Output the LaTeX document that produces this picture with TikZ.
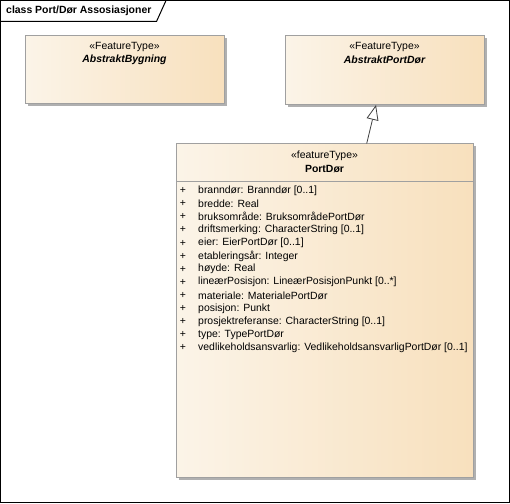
\documentclass[tikz,border=0pt]{standalone}
\usepackage{fontspec}
\setmainfont{Liberation Sans}
\usetikzlibrary{arrows.meta,shadows}
\definecolor{gradl}{HTML}{FBF4E8}
\definecolor{gradr}{HTML}{F8E0BD}
\definecolor{boxline}{HTML}{A0A0A0}
\definecolor{shadowc}{HTML}{B0B0B0}
\tikzset{
  x=1pt,y=1pt,
  classbox/.style={draw=boxline, line width=0.8pt, left color=gradl, right color=gradr,
    shading angle=90, anchor=north west, inner sep=0pt,
    drop shadow={shadow xshift=3pt, shadow yshift=-3pt, fill=shadowc, opacity=1}},
  txt/.style={font=\fontsize{10.45}{12}\selectfont, inner sep=0pt},
  attr/.style={txt, anchor=west},
  plus/.style={txt},
}
\begin{document}
\begin{tikzpicture}
\useasboundingbox (0,0) rectangle (510,-503);
% frame
\draw[line width=1pt] (0.5,-0.5) rectangle (509,-502);
\draw[line width=1pt] (0.5,-21.5) -- (156.5,-21.5) -- (166,-0.5);
\node[txt, font=\fontsize{10.45}{12}\selectfont\bfseries, anchor=west] (title) at (6,-11) {class Port/Dør Assosiasjoner};
% boxes
\node[classbox, minimum width=199pt, minimum height=68pt] (byg) at (25,-35) {};
\node[classbox, minimum width=199pt, minimum height=69pt] (apd) at (285,-35) {};
\node[classbox, minimum width=297pt, minimum height=334pt] (pd) at (176,-143) {};
\draw[boxline, line width=0.8pt] (176,-181) -- (473,-181);
% texts
\node[txt] (bygs) at (124.5,-47.3) {«FeatureType»};
\node[txt, font=\fontsize{10.45}{12}\selectfont\bfseries\itshape] (bygn) at (124.5,-60) {AbstraktBygning};
\node[txt] (apds) at (384.5,-47.3) {«FeatureType»};
\node[txt, font=\fontsize{10.45}{12}\selectfont\bfseries\itshape] (apdn) at (384.5,-60) {AbstraktPortDør};
\node[txt] (pds) at (324.5,-156) {«featureType»};
\node[txt, font=\fontsize{10.45}{12}\selectfont\bfseries] (pdn) at (324.5,-168.7) {PortDør};
\foreach \t [count=\i from 0] in {
  {branndør: Branndør [0..1]},
  {bredde: Real},
  {bruksområde: BruksområdePortDør},
  {driftsmerking: CharacterString [0..1]},
  {eier: EierPortDør [0..1]},
  {etableringsår: Integer},
  {høyde: Real},
  {lineærPosisjon: LineærPosisjonPunkt [0..*]},
  {materiale: MaterialePortDør},
  {posisjon: Punkt},
  {prosjektreferanse: CharacterString [0..1]},
  {type: TypePortDør},
  {vedlikeholdsansvarlig: VedlikeholdsansvarligPortDør [0..1]}} {
  \node[plus] (p\i) at (183,-190.7-13.08*\i) {+};
  \node[attr] (a\i) at (198,-190.7-13.08*\i) {\t};
}
% generalization
\coordinate (gs) at (366.7,-143.5);
\coordinate (ge) at (376,-105);
\draw[line width=0.8pt, draw=black!75, -{Triangle[open, length=15pt, width=12pt, fill=white]}] (gs) -- (ge);
\end{tikzpicture}
\end{document}
